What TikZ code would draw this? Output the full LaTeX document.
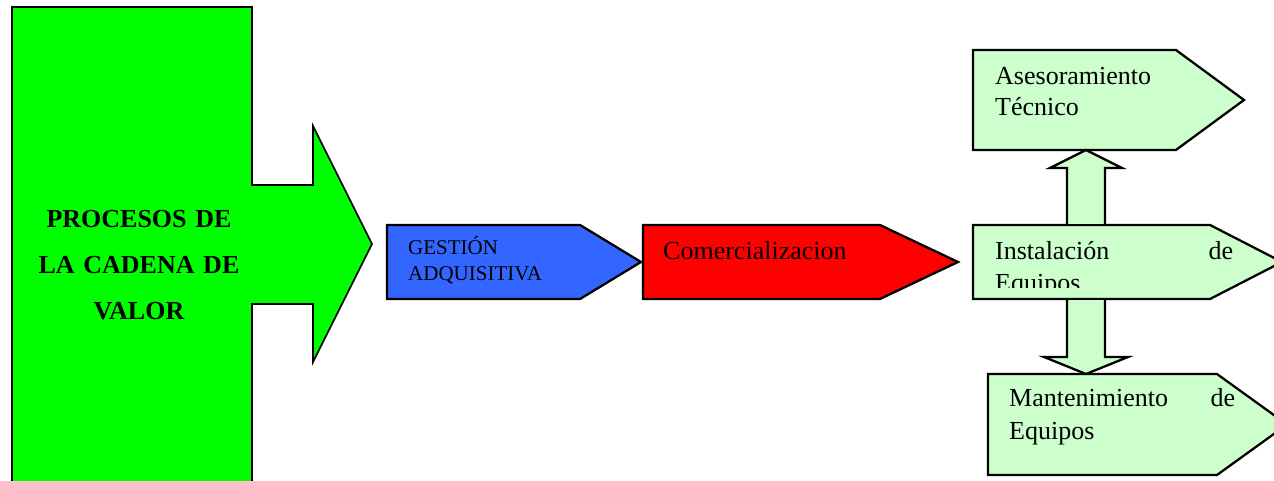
\documentclass[tikz,border=0pt]{standalone}
\usepackage{fontspec}
\setmainfont{Liberation Serif}
\usetikzlibrary{calc,positioning,shapes.symbols}
\definecolor{procgreen}{HTML}{00FF00}
\definecolor{gestblue}{HTML}{3366FF}
\definecolor{comred}{HTML}{FF0000}
\definecolor{paleg}{HTML}{CCFFCC}
\tikzset{
  box/.style={draw=black, line width=0.8mm, shape=signal, signal to=east, inner sep=0pt, outer sep=0pt, anchor=west},
  txt/.style={inner sep=0pt, anchor=base west, align=left, font=\fontsize{26}{32}\selectfont},
  bar/.style={draw=black, line width=0.8mm, fill=paleg, line join=miter},
}

\begin{document}
\begin{tikzpicture}[x=1pt,y=1pt]
			\useasboundingbox (0,0) rectangle (1274,481);
			\clip (0,0) rectangle (1274,481);
			%%%%% START %%%%%
			
			\draw[line width=0.6mm, fill=procgreen] (12,-20) -- (12,474) -- (252,474) -- (252,296) -- (313,296) -- (313,355) -- (372,237) -- (313,119) -- (313,177) -- (252,177) -- (252,-20) -- cycle;
			\node[txt, anchor=base, align=center, text width=230pt, font=\fontsize{26}{46}\selectfont\bfseries] (procT) at (139,253) {PROCESOS DE\\LA CADENA DE\\VALOR};
			
			\node[box, fill=gestblue, minimum width=254pt, minimum height=74pt, signal pointer angle=62.5] (gest) at (387,219) {};
			\node[box, fill=comred, minimum width=315pt, minimum height=74pt, signal pointer angle=50.7] (com) at (643,219) {};
			
			\node[box, fill=paleg, minimum width=271pt, minimum height=100pt, signal pointer angle=72.6] (aseso) at (973,381) {};
			\node[box, fill=paleg, minimum width=309pt, minimum height=74pt, signal pointer angle=54.4] (inst) at (973,219) {};
			\node[box, fill=paleg, minimum width=299pt, minimum height=101pt, signal pointer angle=71.6] (mant) at (988,56.5) {};
			
			\draw[bar] let \p1=($(inst.north west)+(113,1.1)$), \p2=(aseso.south) in (\x1-19pt,\y1) -- (\x1-19pt,\y2-18pt) -- (\x1-36pt,\y2-18pt) -- (\x1,\y2) -- (\x1+36pt,\y2-18pt) -- (\x1+19pt,\y2-18pt) -- (\x1+19pt,\y1);
			\draw[bar] let \p1=($(inst.south west)+(113,-1.1)$), \p2=(mant.north) in (\x1-19pt,\y1) -- (\x1-19pt,\y2+17pt) -- (\x1-42pt,\y2+17pt) -- (\x1,\y2) -- (\x1+42pt,\y2+17pt) -- (\x1+19pt,\y2+17pt) -- (\x1+19pt,\y1);
			
			\node[txt, font=\fontsize{21}{26}\selectfont, text width=200pt] (gestT) at (408,226) {GESTIÓN\\ADQUISITIVA};
			\node[txt] (comT) at (663,221) {Comercializacion};
			\node[txt, font=\fontsize{26}{31}\selectfont, text width=230pt] (asesoT) at (995,396) {Asesoramiento\\Técnico};
			\begin{scope}
				\clip (973,193) rectangle (1290,256);
				\node[txt, text width=238pt] (instT) at (995,221) {Instalación\hfill de\\Equipos};
			\end{scope}
			\node[txt, font=\fontsize{26}{33}\selectfont, text width=226pt] (mantT) at (1009,74) {Mantenimiento\hfill de\\Equipos};
			
			%%%%% END %%%%%
\end{tikzpicture}
\end{document}
